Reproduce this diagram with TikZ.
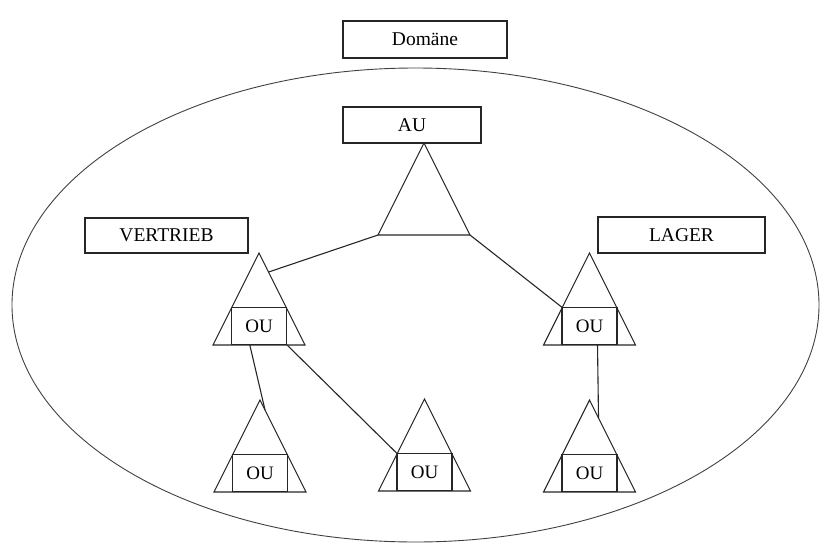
\documentclass[tikz,border=0pt]{standalone}
\usepackage{fontspec}
\setmainfont{Liberation Serif}
\usetikzlibrary{calc,shapes.geometric}
\tikzset{
  line/.style={draw=black!85, line width=1.1pt},
  label box/.style={line, rectangle, inner sep=0pt, font=\fontsize{19.5}{19.5}\selectfont},
  oubox/.style={line, rectangle, inner sep=0pt, minimum width=55pt, minimum height=37pt, font=\fontsize{19}{19}\selectfont},
}
\newcommand\orgtri[3]{%
  \coordinate (#1-apex) at (#2,#3);
  \coordinate (#1-bl) at ($(#1-apex)+(-46,92)$);
  \coordinate (#1-br) at ($(#1-apex)+(46,92)$);
  \draw[line] (#1-apex) -- (#1-bl) -- (#1-br) -- cycle;
}
\newcommand\ouunit[3]{%
  \orgtri{#1}{#2}{#3}
  \node[oubox, anchor=south] (#1) at ($(#1-apex)+(0,92)$) {OU};
}
\begin{document}
\begin{tikzpicture}[x=1pt,y=-1pt]
\useasboundingbox (0,0) rectangle (824,543);
% domain ellipse
\node[draw=black!75, line width=0.9pt, ellipse, inner sep=0pt, minimum width=807pt, minimum height=474pt] (dom) at (415.5,305) {};
\node[label box, minimum width=164pt, minimum height=37pt] (domlabel) at (425,39.5) {Domäne};
% AU
\node[label box, minimum width=138pt, minimum height=36pt] (au) at (412,125) {AU};
\orgtri{aut}{424}{143}
% labels
\node[label box, minimum width=163pt, minimum height=35pt] (vertrieb) at (166.5,235.5) {VERTRIEB};
\node[label box, minimum width=167pt, minimum height=36pt] (lager) at (681.5,235) {LAGER};
% OUs
\ouunit{ou1}{259}{253}
\ouunit{ou2}{589.5}{253}
\ouunit{ou3}{260}{400}
\ouunit{ou4}{424.5}{399}
\ouunit{ou5}{589.5}{400}
% connector points
\coordinate (c1) at ($(ou1-apex)!0.207!(ou1-br)$);
\coordinate (c2) at ($(ou1-bl)!0.4!(ou1-br)$);
\coordinate (c3) at ($(ou3-apex)!0.11!(ou3-br)$);
\coordinate (c4) at ($(ou2-bl)!0.587!(ou2-br)$);
\coordinate (c5) at ($(ou5-apex)!0.196!(ou5-br)$);
% connectors
\draw[line] (aut-bl) -- (c1);
\draw[line] (aut-br) -- (ou2.north west);
\draw[line] (c2) -- (c3);
\draw[line] (ou1.south east) -- (ou4.north west);
\draw[line] (c4) -- (c5);
\end{tikzpicture}
\end{document}
